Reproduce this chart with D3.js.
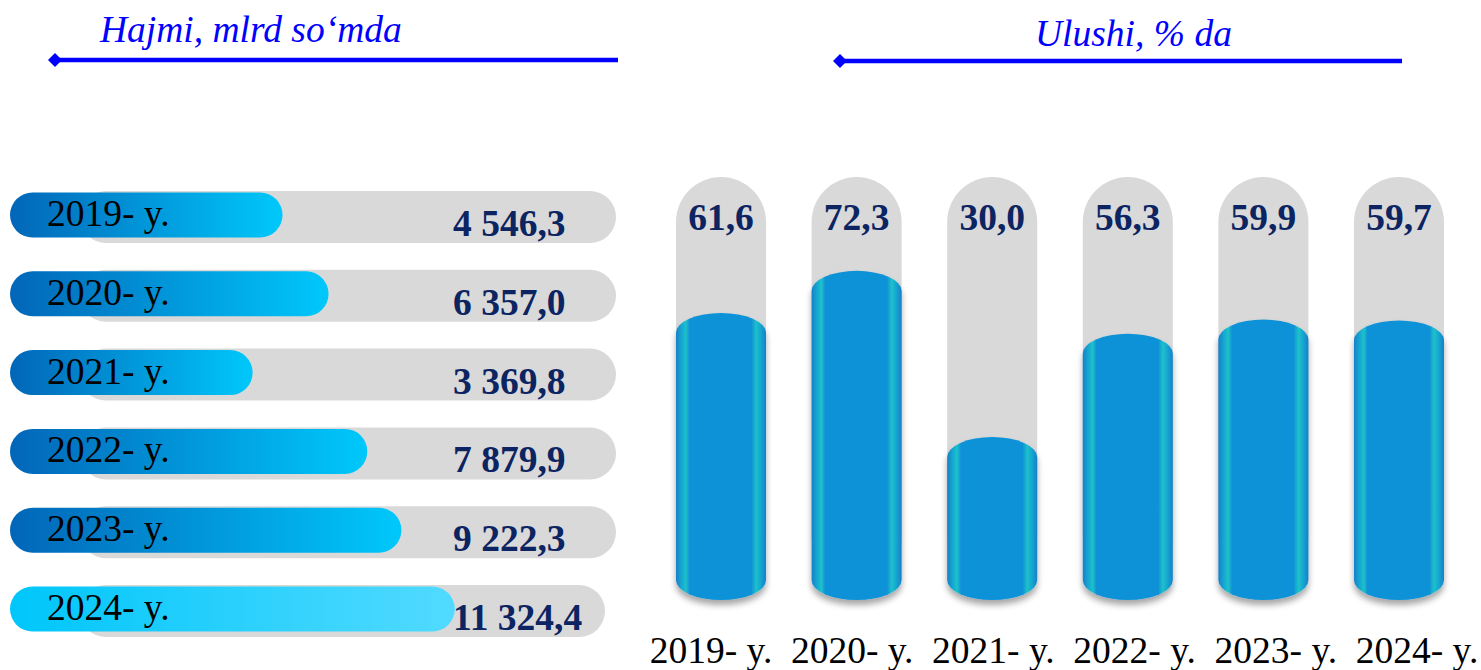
<!DOCTYPE html>
<html>
<head>
<meta charset="utf-8">
<script src="https://cdn.jsdelivr.net/npm/d3@7"></script>
<style>
  body{margin:0;background:#fff;}
  svg{display:block;}
</style>
</head>
<body>
<div id="chart"></div>
<script>
// ma'lumotlar
const years = ["2019- y.", "2020- y.", "2021- y.", "2022- y.", "2023- y.", "2024- y."];
const volumes = [4546.3, 6357.0, 3369.8, 7879.9, 9222.3, 11324.4];
const shares = [61.6, 72.3, 30.0, 56.3, 59.9, 59.7];
const leftTitle = "Hajmi, mlrd so‘mda";
const rightTitle = "Ulushi, % da";

const width = 1481, height = 670;
const serif = "'Liberation Serif', 'Times New Roman', serif";
const navy = "#0c2461";
const fs = "37.5px";

const uz = d3.formatLocale({decimal: ",", thousands: " ", grouping: [3], currency: ["", ""]});
const fmtVol = uz.format(",.1f");
const fmtShare = uz.format(".1f");

const svg = d3.select("#chart").append("svg")
    .attr("width", width)
    .attr("height", height);

const defs = svg.append("defs");

// gradientlar
const barGrad = defs.append("linearGradient").attr("id", "barGrad");
barGrad.append("stop").attr("offset", "0%").attr("stop-color", "#0266b8");
barGrad.append("stop").attr("offset", "100%").attr("stop-color", "#00c8fb");

const lastGrad = defs.append("linearGradient").attr("id", "lastGrad");
lastGrad.append("stop").attr("offset", "0%").attr("stop-color", "#00c6fa");
lastGrad.append("stop").attr("offset", "100%").attr("stop-color", "#52daff");

const cylGrad = defs.append("linearGradient").attr("id", "cylGrad");
[["0%", "#1680c8"], ["6%", "#15a6d2"], ["11%", "#1ec2c8"], ["15%", "#1192d8"],
 ["84%", "#1192d8"], ["89%", "#1ec2c8"], ["94%", "#15a6d2"], ["100%", "#1680c8"]]
    .forEach(s => cylGrad.append("stop").attr("offset", s[0]).attr("stop-color", s[1]));

const shadow = defs.append("filter").attr("id", "shadow")
    .attr("x", "-20%").attr("y", "-10%").attr("width", "140%").attr("height", "130%");
shadow.append("feDropShadow")
    .attr("dx", 0).attr("dy", 5).attr("stdDeviation", 3)
    .attr("flood-color", "#000").attr("flood-opacity", 0.35);

// sarlavhalar va strelkalar
function header(text, tx, ty, x1, x2, ly){
    const g = svg.append("g");
    g.append("text")
        .attr("x", tx).attr("y", ty)
        .style("font-family", serif)
        .style("font-style", "italic")
        .style("font-size", fs)
        .style("fill", "#0000ff")
        .text(text);
    g.append("line")
        .attr("x1", x1 + 4).attr("x2", x2)
        .attr("y1", ly).attr("y2", ly)
        .style("stroke", "#0000ff")
        .style("stroke-width", 4.5);
    g.append("path")
        .attr("d", `M${x1 - 7},${ly} L${x1},${ly - 7} L${x1 + 7},${ly} L${x1},${ly + 7} Z`)
        .style("fill", "#0000ff");
}
header(leftTitle, 100, 42, 55, 618, 60);
header(rightTitle, 1035, 46, 840, 1402, 61);

// chap panel: gorizontal chiziqlar
const yRow = d3.scalePoint().domain(years).range([215, 609]);
const xVol = d3.scaleLinear().domain([0, 12000]).range([167, 472]);
const barH = 45, trackH = 52;

const rows = svg.append("g").attr("class", "rows")
    .selectAll("g")
    .data(years.map((y, i) => ({year: y, value: volumes[i], i})))
    .enter().append("g");

rows.append("rect")
    .attr("x", 80)
    .attr("y", d => yRow(d.year) + 2 - trackH / 2)
    .attr("width", d => (d.i === years.length - 1 ? 605 : 616) - 80)
    .attr("height", trackH)
    .attr("rx", trackH / 2).attr("ry", trackH / 2)
    .style("fill", "#d9d9d9");

rows.append("rect")
    .attr("x", 10)
    .attr("y", d => yRow(d.year) - barH / 2)
    .attr("width", d => xVol(d.value) - 10)
    .attr("height", barH)
    .attr("rx", barH / 2).attr("ry", barH / 2)
    .style("fill", d => d.i === years.length - 1 ? "url(#lastGrad)" : "url(#barGrad)");

rows.append("text")
    .attr("x", 47)
    .attr("y", d => yRow(d.year) + 11)
    .style("font-family", serif)
    .style("font-size", fs)
    .style("fill", "#000")
    .text(d => d.year);

rows.append("text")
    .attr("x", 453)
    .attr("y", d => yRow(d.year) + 21)
    .style("font-family", serif)
    .style("font-weight", "bold")
    .style("font-size", fs)
    .style("fill", navy)
    .text(d => fmtVol(d.value));

// o'ng panel: silindrlar
const xCol = d3.scaleBand().domain(years).range([676, 1444]).paddingInner(0.336).paddingOuter(0);
const yShare = d3.scaleLinear().domain([0, 100]).range([555, 162]);
const colTop = 177, colBottom = 600, ry = 20;
const bw = xCol.bandwidth();

const cols = svg.append("g").attr("class", "cols")
    .selectAll("g")
    .data(years.map((y, i) => ({year: y, value: shares[i]})))
    .enter().append("g")
    .attr("transform", d => `translate(${xCol(d.year)},0)`);

cols.append("rect")
    .attr("x", 0).attr("y", colTop)
    .attr("width", bw)
    .attr("height", colBottom - 20 - colTop)
    .attr("rx", bw / 2).attr("ry", bw / 2)
    .style("fill", "#d9d9d9");

cols.append("path")
    .attr("d", d => {
        const t = yShare(d.value);
        return `M0,${t + ry} A${bw / 2},${ry} 0 0 1 ${bw},${t + ry}` +
               ` L${bw},${colBottom - ry} A${bw / 2},${ry} 0 0 1 0,${colBottom - ry} Z`;
    })
    .style("fill", "url(#cylGrad)")
    .attr("filter", "url(#shadow)");

cols.append("text")
    .attr("x", bw / 2)
    .attr("y", 230)
    .attr("text-anchor", "middle")
    .style("font-family", serif)
    .style("font-weight", "bold")
    .style("font-size", fs)
    .style("fill", navy)
    .text(d => fmtShare(d.value));

const xLab = d3.scalePoint().domain(years).range([711, 1417]);
svg.append("g").selectAll("text")
    .data(years)
    .enter().append("text")
    .attr("x", d => xLab(d))
    .attr("y", 663)
    .attr("text-anchor", "middle")
    .style("font-family", serif)
    .style("font-size", fs)
    .style("fill", "#000")
    .text(d => d);
</script>
</body>
</html>
